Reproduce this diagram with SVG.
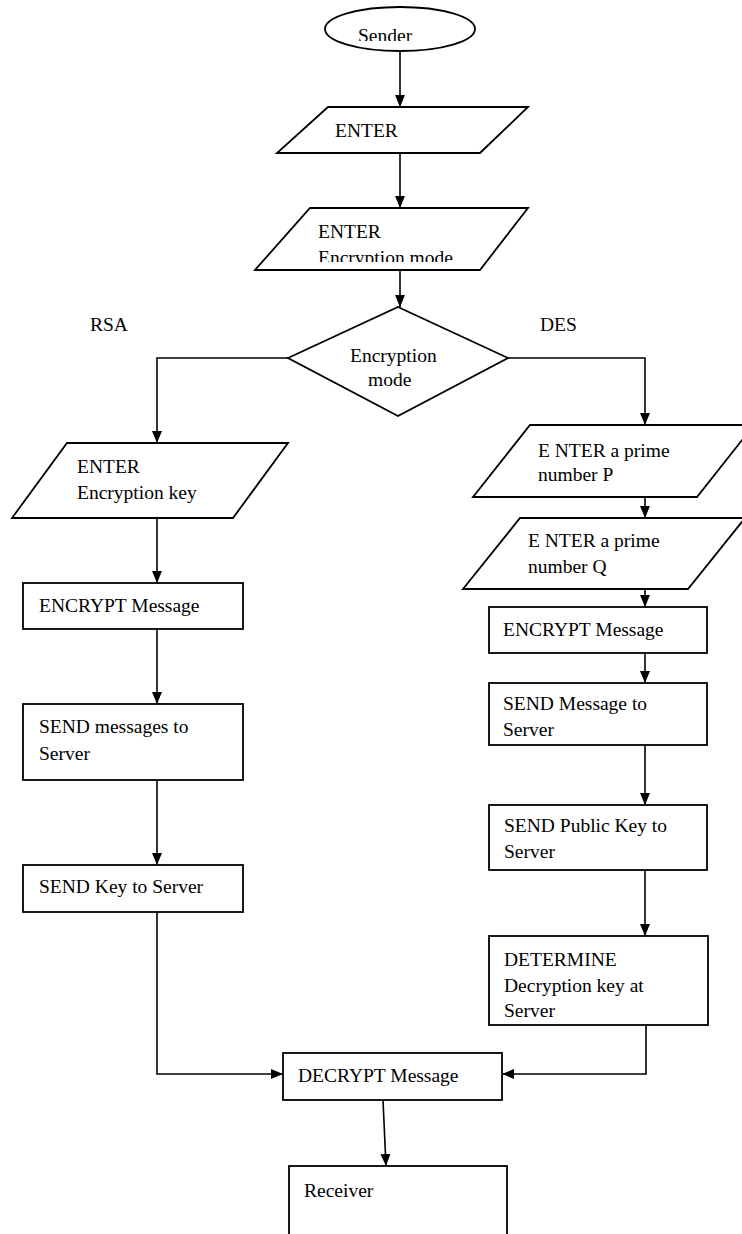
<svg xmlns="http://www.w3.org/2000/svg" width="742" height="1234" viewBox="0 0 742 1234">
<style>
.s{fill:#fff;stroke:#000;stroke-width:1.8}
.t{font-family:"Liberation Serif","Times New Roman",serif;font-size:19.5px;fill:#000}
.c{fill:none;stroke:#000;stroke-width:1.6}
</style>
<defs>
<marker id="a" markerUnits="userSpaceOnUse" markerWidth="12" markerHeight="12" viewBox="0 0 12 12" refX="12" refY="6" orient="auto">
<path d="M0,1 L12,6 L0,11 Z" fill="#000"/>
</marker>
<clipPath id="cs"><rect x="300" y="0" width="200" height="41"/></clipPath>
<clipPath id="cm"><rect x="250" y="200" width="300" height="62"/></clipPath>
</defs>
<rect width="742" height="1234" fill="#fff"/>
<g id="connectors">
<line class="c" x1="400" y1="51" x2="400" y2="107" marker-end="url(#a)"/>
<line class="c" x1="400" y1="153" x2="400" y2="208" marker-end="url(#a)"/>
<line class="c" x1="400" y1="270" x2="400" y2="307" marker-end="url(#a)"/>
<polyline class="c" points="288,358 157,358 157,443" marker-end="url(#a)"/>
<polyline class="c" points="508,358 645,358 645,425" marker-end="url(#a)"/>
<line class="c" x1="157" y1="518" x2="157" y2="583" marker-end="url(#a)"/>
<line class="c" x1="157" y1="629" x2="157" y2="704" marker-end="url(#a)"/>
<line class="c" x1="157" y1="780" x2="157" y2="865" marker-end="url(#a)"/>
<polyline class="c" points="157,912 157,1074 283,1074" marker-end="url(#a)"/>
<line class="c" x1="645" y1="497" x2="645" y2="518" marker-end="url(#a)"/>
<line class="c" x1="645" y1="589" x2="645" y2="607" marker-end="url(#a)"/>
<line class="c" x1="645" y1="653" x2="645" y2="683" marker-end="url(#a)"/>
<line class="c" x1="645" y1="745" x2="645" y2="805" marker-end="url(#a)"/>
<line class="c" x1="645" y1="870" x2="645" y2="936" marker-end="url(#a)"/>
<polyline class="c" points="646,1025 646,1074 502,1074" marker-end="url(#a)"/>
<line class="c" x1="383" y1="1100" x2="386" y2="1166" marker-end="url(#a)"/>
</g>
<g id="sender">
<ellipse class="s" cx="400" cy="29" rx="75" ry="22"/>
<text class="t" x="358" y="42" clip-path="url(#cs)">Sender</text>
</g>
<g id="enter1">
<polygon class="s" points="328,107 528,107 480,153 277,153"/>
<text class="t" x="335" y="137">ENTER</text>
</g>
<g id="enter2">
<polygon class="s" points="310,208 528,208 480,270 255,270"/>
<text class="t" x="318" y="238">ENTER</text>
<text class="t" x="318" y="264" clip-path="url(#cm)">Encryption mode</text>
</g>
<g id="decision">
<polygon class="s" points="398,307 508,358 398,416 288,358"/>
<text class="t" x="350" y="362">Encryption</text>
<text class="t" x="368" y="386">mode</text>
</g>
<g id="labels">
<text class="t" x="90" y="331">RSA</text>
<text class="t" x="540" y="331">DES</text>
</g>
<g id="enterKey">
<polygon class="s" points="67,443 288,443 233,518 12,518"/>
<text class="t" x="77" y="473">ENTER</text>
<text class="t" x="77" y="499">Encryption key</text>
</g>
<g id="encryptL">
<rect class="s" x="23" y="583" width="220" height="46"/>
<text class="t" x="39" y="612">ENCRYPT Message</text>
</g>
<g id="sendMsgL">
<rect class="s" x="23" y="704" width="220" height="76"/>
<text class="t" x="39" y="733">SEND messages to</text>
<text class="t" x="39" y="760">Server</text>
</g>
<g id="sendKeyL">
<rect class="s" x="23" y="865" width="220" height="47"/>
<text class="t" x="39" y="893">SEND Key to Server</text>
</g>
<g id="primeP">
<polygon class="s" points="530,425 754,425 697,497 473,497"/>
<text class="t" x="538" y="457">E NTER a prime</text>
<text class="t" x="538" y="481">number P</text>
</g>
<g id="primeQ">
<polygon class="s" points="520,518 745,518 688,589 463,589"/>
<text class="t" x="528" y="547">E NTER a prime</text>
<text class="t" x="528" y="573">number Q</text>
</g>
<g id="encryptR">
<rect class="s" x="489" y="607" width="218" height="46"/>
<text class="t" x="503" y="636">ENCRYPT Message</text>
</g>
<g id="sendMsgR">
<rect class="s" x="489" y="683" width="218" height="62"/>
<text class="t" x="503" y="710">SEND Message to</text>
<text class="t" x="503" y="736">Server</text>
</g>
<g id="sendPub">
<rect class="s" x="489" y="805" width="218" height="65"/>
<text class="t" x="504" y="832">SEND Public Key to</text>
<text class="t" x="504" y="858">Server</text>
</g>
<g id="determine">
<rect class="s" x="489" y="936" width="219" height="89"/>
<text class="t" x="504" y="966">DETERMINE</text>
<text class="t" x="504" y="992">Decryption key at</text>
<text class="t" x="504" y="1017">Server</text>
</g>
<g id="decrypt">
<rect class="s" x="283" y="1053" width="219" height="47"/>
<text class="t" x="298" y="1082">DECRYPT Message</text>
</g>
<g id="receiver">
<rect class="s" x="289" y="1166" width="218" height="80"/>
<text class="t" x="304" y="1197">Receiver</text>
</g>
</svg>
